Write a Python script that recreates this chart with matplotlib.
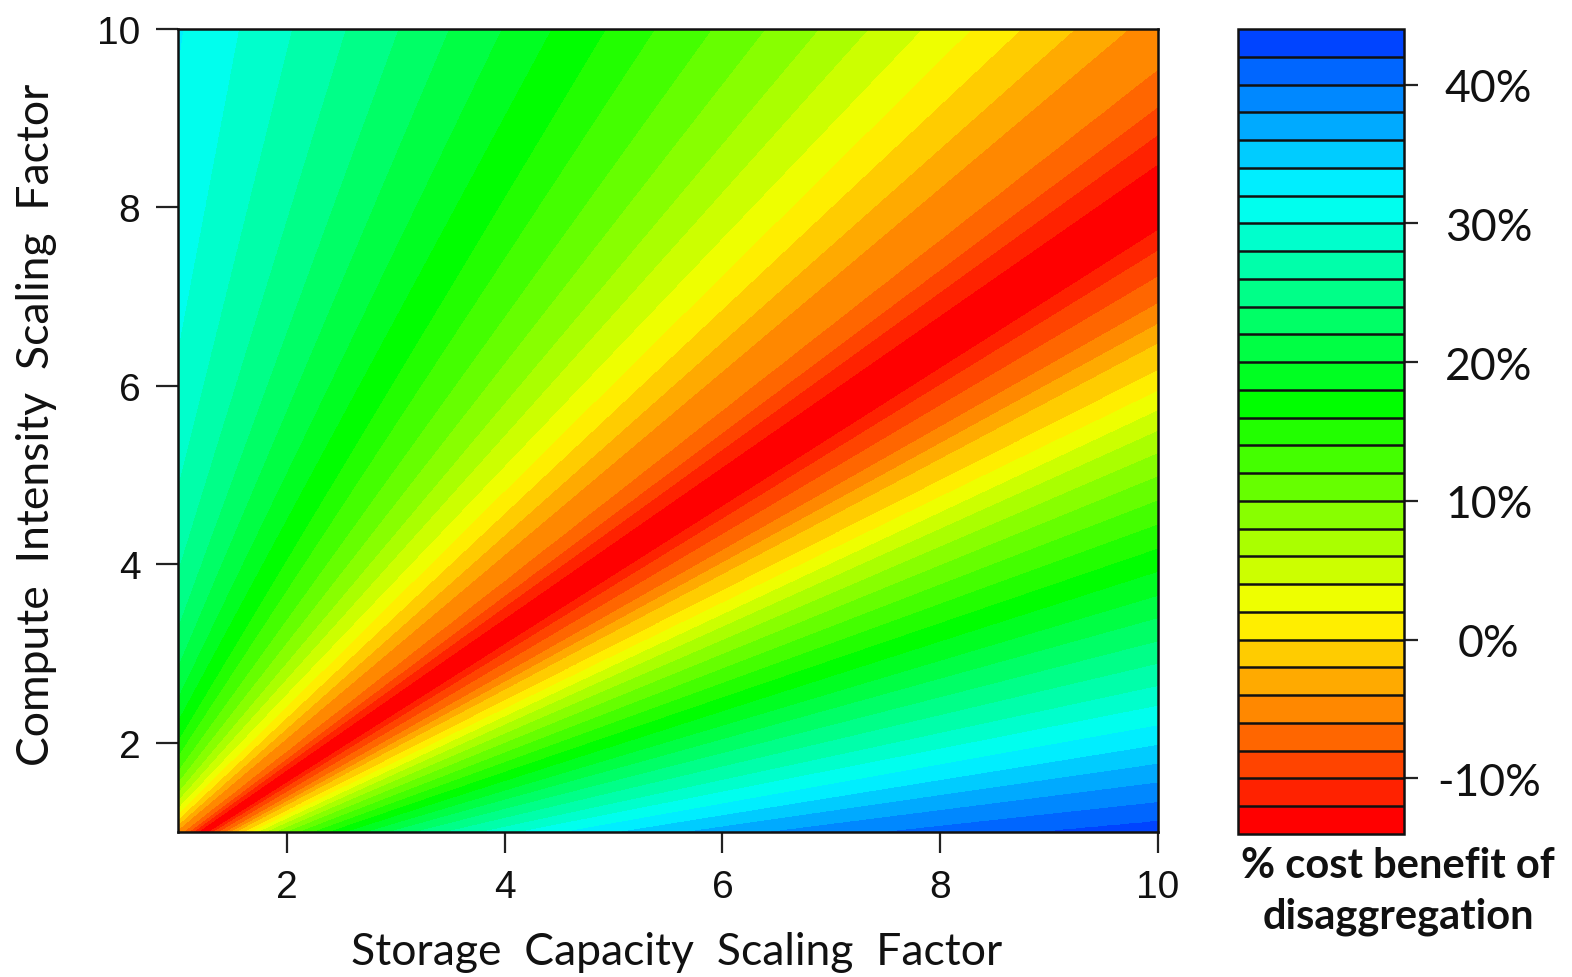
import numpy as np
import matplotlib
matplotlib.use("Agg")
import matplotlib.pyplot as plt
from matplotlib.colors import hsv_to_rgb

# ---- data ----
# compute/storage ratio (y/x) and the % cost benefit along it
ratio = [0.100, 0.112, 0.133, 0.155, 0.176, 0.197, 0.219, 0.241, 0.263, 0.288,
         0.313, 0.339, 0.364, 0.391, 0.417, 0.444, 0.471, 0.498, 0.524, 0.549,
         0.572, 0.594, 0.617, 0.647, 0.669, 0.692, 0.722, 0.751, 0.774, 0.800,
         0.820, 0.849, 0.882, 0.913, 0.955, 1.000, 1.028, 1.083, 1.144, 1.207,
         1.277, 1.363, 1.453, 1.565, 1.695, 1.860, 2.030, 2.260, 2.520, 2.870,
         3.310, 3.940, 4.890, 6.420, 9.600, 10.00]
benefit = [42.8, 42, 40, 38, 36, 34, 32, 30, 28, 26,
           24, 22, 20, 18, 16, 14, 12, 10, 8, 6,
           4, 2, 0, -2, -4, -6, -8, -10, -12, -13.8,
           -13.8, -12, -10, -8, -6, -5, -4, -2, 0, 2,
           4, 6, 8, 10, 12, 14, 16, 18, 20, 22,
           24, 26, 28, 30, 32, 32.3]
levels = list(range(-14, 46, 2))
x_ticks = [2, 4, 6, 8, 10]
y_ticks = [2, 4, 6, 8, 10]
cb_ticks = [-10, 0, 10, 20, 30, 40]
cb_labels = ["-10%", "0%", "10%", "20%", "30%", "40%"]
x_title = "Storage  Capacity  Scaling  Factor"
y_title = "Compute  Intensity  Scaling  Factor"
cb_title = ["% cost benefit of", "disaggregation"]

# ---- figure ----
W, H = 1572, 978
fig = plt.figure(figsize=(W / 100, H / 100), dpi=100)
ax = fig.add_axes([178 / W, 1 - 833 / H, (1158 - 178) / W, (833 - 30) / H])
cax = fig.add_axes([1238 / W, 1 - 835 / H, (1404 - 1238) / W, (835 - 30) / H])

n_bands = len(levels) - 1
colors = [hsv_to_rgb((i / 45.0, 1.0, 1.0)) for i in range(n_bands)]

gx = np.linspace(1, 10, 400)
gy = np.linspace(1, 10, 400)
X, Y = np.meshgrid(gx, gy)
Z = np.interp(np.log(Y / X), np.log(ratio), benefit)

cs = ax.contourf(X, Y, Z, levels=levels, colors=colors, antialiased=False)
ax.set_xlim(1, 10)
ax.set_ylim(1, 10)
ax.set_xticks(x_ticks)
ax.set_yticks(y_ticks)
tick_font = dict(family=["Liberation Sans", "DejaVu Sans"], size=28)
ax.set_xticklabels([str(v) for v in x_ticks], fontdict=tick_font, color="#111111")
ax.set_yticklabels([str(v) for v in y_ticks], fontdict=tick_font, color="#111111")
ax.tick_params(axis="x", length=15, width=1.6, pad=12, color="#222222")
ax.tick_params(axis="y", length=16, width=1.6, pad=11, color="#222222")
for s in ax.spines.values():
    s.set_linewidth(1.8)
    s.set_color("#111111")

cb = fig.colorbar(cs, cax=cax, drawedges=True)
cb.dividers.set_color("#111111")
cb.dividers.set_linewidth(1.8)
cb.outline.set_linewidth(1.8)
cb.outline.set_edgecolor("#111111")
cb.set_ticks(cb_ticks)
cb.set_ticklabels(cb_labels)
cax.tick_params(length=10, width=1.6, pad=51, color="#222222")
for t in cax.get_yticklabels():
    t.set_fontfamily(["Lato", "DejaVu Sans"])
    t.set_fontsize(32)
    t.set_horizontalalignment("center")
    t.set_color("#111111")

fig.text(677 / W, 1 - 953 / H, x_title, ha="center", va="center",
         family=["Lato", "DejaVu Sans"], fontsize=32, color="#111111")
fig.text(37 / W, 1 - 425 / H, y_title, ha="center", va="center", rotation=90,
         family=["Lato", "DejaVu Sans"], fontsize=32, color="#111111")
fig.text(1398 / W, 1 - 866 / H, cb_title[0], ha="center", va="center",
         family=["Lato", "DejaVu Sans"], fontsize=30, weight="bold", color="#111111")
fig.text(1398 / W, 1 - 917 / H, cb_title[1], ha="center", va="center",
         family=["Lato", "DejaVu Sans"], fontsize=30, weight="bold", color="#111111")

fig.savefig("out.png", dpi=100)
